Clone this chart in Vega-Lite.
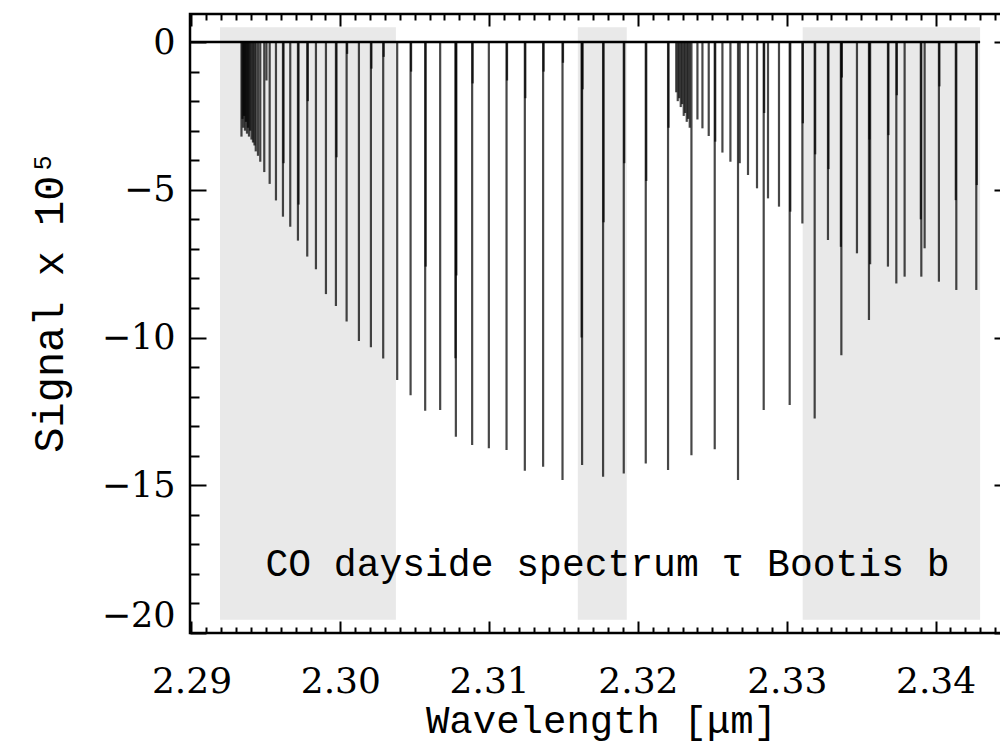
{
  "$schema": "https://vega.github.io/schema/vega-lite/v6.json",
  "width": 820,
  "height": 619,
  "autosize": {"type": "none"},
  "padding": {"left": 190, "top": 14, "right": 0, "bottom": 114},
  "background": "white",
  "config": {
    "view": {"stroke": "black", "strokeWidth": 2.5},
    "axis": {"grid": false, "domain": false, "tickColor": "black", "tickWidth": 2, "labelColor": "black", "titleColor": "black", "labelFont": "DejaVu Serif", "titleFont": "Liberation Mono", "titleFontWeight": "normal"}
  },
  "datasets": {
    "bands": [
      {"start": 2.291915, "end": 2.303735, "top": 0.5, "bottom": -19.55},
      {"start": 2.315958, "end": 2.319249, "top": 0.5, "bottom": -19.55},
      {"start": 2.331069, "end": 2.34299, "top": 0.5, "bottom": -19.55}
    ],
    "continuum": [
      {"start": 2.2899, "end": 2.34299, "signal": 0}
    ],
    "lines": [
      {"wl": 2.293359, "signal": -3.2}, {"wl": 2.293426, "signal": -2.6}, {"wl": 2.29348, "signal": -2.9},
      {"wl": 2.29354, "signal": -2.5}, {"wl": 2.293594, "signal": -3.0}, {"wl": 2.293661, "signal": -2.7},
      {"wl": 2.293728, "signal": -3.1}, {"wl": 2.293795, "signal": -2.9}, {"wl": 2.293862, "signal": -3.2},
      {"wl": 2.29395, "signal": -3.0}, {"wl": 2.29403, "signal": -3.3}, {"wl": 2.294131, "signal": -3.4},
      {"wl": 2.294232, "signal": -3.5}, {"wl": 2.294319, "signal": -3.7}, {"wl": 2.294467, "signal": -3.85},
      {"wl": 2.294621, "signal": -4.05}, {"wl": 2.29489, "signal": -4.4}, {"wl": 2.295253, "signal": -4.8},
      {"wl": 2.295676, "signal": -5.36}, {"wl": 2.296146, "signal": -5.91}, {"wl": 2.296636, "signal": -6.25},
      {"wl": 2.297153, "signal": -6.72}, {"wl": 2.297778, "signal": -7.26}, {"wl": 2.298362, "signal": -7.69},
      {"wl": 2.299034, "signal": -8.53}, {"wl": 2.299705, "signal": -8.93}, {"wl": 2.300424, "signal": -9.46},
      {"wl": 2.30125, "signal": -10.12}, {"wl": 2.302056, "signal": -10.33}, {"wl": 2.302882, "signal": -10.71},
      {"wl": 2.303822, "signal": -11.44}, {"wl": 2.304722, "signal": -11.95}, {"wl": 2.305703, "signal": -12.48},
      {"wl": 2.30671, "signal": -12.45}, {"wl": 2.307765, "signal": -13.36}, {"wl": 2.308859, "signal": -13.64},
      {"wl": 2.309981, "signal": -13.75}, {"wl": 2.31117, "signal": -13.81}, {"wl": 2.312399, "signal": -14.51},
      {"wl": 2.313628, "signal": -14.37}, {"wl": 2.314931, "signal": -14.82}, {"wl": 2.316247, "signal": -14.31},
      {"wl": 2.317657, "signal": -14.71}, {"wl": 2.319047, "signal": -14.6}, {"wl": 2.320525, "signal": -14.26},
      {"wl": 2.322023, "signal": -14.48}, {"wl": 2.323594, "signal": -13.98}, {"wl": 2.325159, "signal": -13.78},
      {"wl": 2.326724, "signal": -14.82}, {"wl": 2.32845, "signal": -12.45}, {"wl": 2.330196, "signal": -12.28},
      {"wl": 2.331875, "signal": -12.74}, {"wl": 2.333668, "signal": -10.6}, {"wl": 2.335522, "signal": -9.41},
      {"wl": 2.337362, "signal": -8.17}, {"wl": 2.339041, "signal": -7.94}, {"wl": 2.341392, "signal": -8.39},
      {"wl": 2.342735, "signal": -8.39},
      {"wl": 2.322573, "signal": -1.7}, {"wl": 2.322674, "signal": -2.0}, {"wl": 2.322775, "signal": -1.9},
      {"wl": 2.322876, "signal": -2.2}, {"wl": 2.322976, "signal": -2.1}, {"wl": 2.323077, "signal": -2.5},
      {"wl": 2.323178, "signal": -2.4}, {"wl": 2.323279, "signal": -2.7}, {"wl": 2.323379, "signal": -2.6},
      {"wl": 2.32348, "signal": -2.9},
      {"wl": 2.323997, "signal": -2.62}, {"wl": 2.324333, "signal": -2.92}, {"wl": 2.324756, "signal": -3.18},
      {"wl": 2.325193, "signal": -3.37}, {"wl": 2.325676, "signal": -3.74}, {"wl": 2.326213, "signal": -4.05},
      {"wl": 2.326838, "signal": -4.1}, {"wl": 2.327395, "signal": -4.5}, {"wl": 2.328, "signal": -4.95},
      {"wl": 2.328739, "signal": -5.29}, {"wl": 2.329477, "signal": -5.57}, {"wl": 2.330236, "signal": -5.74},
      {"wl": 2.331049, "signal": -6.14}, {"wl": 2.332768, "signal": -6.7}, {"wl": 2.333635, "signal": -6.93},
      {"wl": 2.334716, "signal": -7.15}, {"wl": 2.335602, "signal": -7.52}, {"wl": 2.336798, "signal": -7.6},
      {"wl": 2.337919, "signal": -7.94}, {"wl": 2.339263, "signal": -6.98}, {"wl": 2.340223, "signal": -8.11},
      {"wl": 2.295038, "signal": -1.3}, {"wl": 2.296186, "signal": -4.1}, {"wl": 2.297194, "signal": -5.5},
      {"wl": 2.297818, "signal": -2.0}, {"wl": 2.299746, "signal": -3.9}, {"wl": 2.300458, "signal": -0.4},
      {"wl": 2.30209, "signal": -0.9}, {"wl": 2.302916, "signal": -0.5}, {"wl": 2.304756, "signal": -1.0},
      {"wl": 2.305736, "signal": -7.6}, {"wl": 2.307738, "signal": -10.7}, {"wl": 2.307798, "signal": -7.9},
      {"wl": 2.308893, "signal": -1.4}, {"wl": 2.311203, "signal": -1.3}, {"wl": 2.312432, "signal": -1.9},
      {"wl": 2.313661, "signal": -1.0}, {"wl": 2.314964, "signal": -0.7}, {"wl": 2.31628, "signal": -1.6},
      {"wl": 2.316213, "signal": -10.0}, {"wl": 2.317691, "signal": -6.1}, {"wl": 2.319081, "signal": -4.1},
      {"wl": 2.320559, "signal": -4.7}, {"wl": 2.322056, "signal": -2.9}, {"wl": 2.328483, "signal": -2.4},
      {"wl": 2.331083, "signal": -2.75}, {"wl": 2.331909, "signal": -3.8}, {"wl": 2.332802, "signal": -4.3},
      {"wl": 2.333702, "signal": -1.2}, {"wl": 2.335555, "signal": -3.3}, {"wl": 2.336831, "signal": -3.15},
      {"wl": 2.337396, "signal": -1.8}, {"wl": 2.339007, "signal": -6.0}, {"wl": 2.340257, "signal": -1.5},
      {"wl": 2.341358, "signal": -5.35}, {"wl": 2.342768, "signal": -4.84}
    ],
    "note": [
      {"wl": 2.317954, "signal": -18.07, "text": "CO dayside spectrum τ Bootis b"}
    ]
  },
  "resolve": {"axis": {"x": "independent", "y": "independent"}},
  "layer": [
    {
      "data": {"name": "bands"},
      "mark": {"type": "rect", "fill": "#e9e9e9"},
      "encoding": {
        "x": {"field": "start", "type": "quantitative", "scale": {"domain": [2.2899, 2.345], "nice": false, "zero": false},
          "axis": {"orient": "bottom", "values": [2.29, 2.30, 2.31, 2.32, 2.33, 2.34], "format": ".2f", "tickSize": -12,
            "labelFontSize": 36, "labelBaseline": "alphabetic", "labelPadding": 71, "labelFlush": false, "labelOverlap": false,
            "title": "Wavelength [μm]", "titleFontSize": 39, "titleX": 411, "titleY": 99, "titleBaseline": "alphabetic", "titleAlign": "center"}},
        "x2": {"field": "end"},
        "y": {"field": "top", "type": "quantitative", "scale": {"domain": [-20, 0.95], "nice": false, "zero": false},
          "axis": {"orient": "left", "values": [0, -5, -10, -15, -20], "tickSize": -16,
            "labelFontSize": 35, "labelPadding": 31, "labelFlush": 1, "labelFlushOffset": 0, "labelOverlap": false,
            "title": "Signal x 10⁵", "titleFontSize": 42, "titleAngle": -90, "titleX": -128, "titleY": 287, "titleBaseline": "alphabetic", "titleAlign": "center"}},
        "y2": {"field": "bottom"}
      }
    },
    {
      "data": {"name": "continuum"},
      "mark": {"type": "rule", "color": "black", "strokeWidth": 2.5},
      "encoding": {
        "x": {"field": "start", "type": "quantitative", "scale": {"domain": [2.2899, 2.345], "nice": false, "zero": false},
          "axis": {"orient": "bottom", "values": [2.291, 2.292, 2.293, 2.294, 2.295, 2.296, 2.297, 2.298, 2.299, 2.301, 2.302, 2.303, 2.304, 2.305, 2.306, 2.307, 2.308, 2.309, 2.311, 2.312, 2.313, 2.314, 2.315, 2.316, 2.317, 2.318, 2.319, 2.321, 2.322, 2.323, 2.324, 2.325, 2.326, 2.327, 2.328, 2.329, 2.331, 2.332, 2.333, 2.334, 2.335, 2.336, 2.337, 2.338, 2.339, 2.341, 2.342, 2.343, 2.344],
            "tickSize": -6, "labels": false, "title": null}},
        "x2": {"field": "end"},
        "y": {"field": "signal", "type": "quantitative", "scale": {"domain": [-20, 0.95], "nice": false, "zero": false},
          "axis": {"orient": "left", "values": [-1, -2, -3, -4, -6, -7, -8, -9, -11, -12, -13, -14, -16, -17, -18, -19],
            "tickSize": -9, "labels": false, "title": null}}
      }
    },
    {
      "data": {"name": "lines"},
      "mark": {"type": "rule", "color": "black", "strokeWidth": 2.2, "opacity": 0.72},
      "encoding": {
        "x": {"field": "wl", "type": "quantitative", "scale": {"domain": [2.2899, 2.345], "nice": false, "zero": false},
          "axis": {"orient": "top", "values": [2.29, 2.30, 2.31, 2.32, 2.33, 2.34], "tickSize": -12, "labels": false, "title": null}},
        "y": {"field": "signal", "type": "quantitative", "scale": {"domain": [-20, 0.95], "nice": false, "zero": false},
          "axis": {"orient": "right", "values": [0, -5, -10, -15, -20], "tickSize": -16, "labels": false, "title": null}},
        "y2": {"datum": 0}
      }
    },
    {
      "data": {"name": "note"},
      "mark": {"type": "text", "font": "Liberation Mono", "fontSize": 38, "align": "center", "baseline": "alphabetic", "color": "black"},
      "encoding": {
        "x": {"field": "wl", "type": "quantitative", "scale": {"domain": [2.2899, 2.345], "nice": false, "zero": false},
          "axis": {"orient": "top", "values": [2.291, 2.292, 2.293, 2.294, 2.295, 2.296, 2.297, 2.298, 2.299, 2.301, 2.302, 2.303, 2.304, 2.305, 2.306, 2.307, 2.308, 2.309, 2.311, 2.312, 2.313, 2.314, 2.315, 2.316, 2.317, 2.318, 2.319, 2.321, 2.322, 2.323, 2.324, 2.325, 2.326, 2.327, 2.328, 2.329, 2.331, 2.332, 2.333, 2.334, 2.335, 2.336, 2.337, 2.338, 2.339, 2.341, 2.342, 2.343, 2.344],
            "tickSize": -6, "labels": false, "title": null}},
        "y": {"field": "signal", "type": "quantitative", "scale": {"domain": [-20, 0.95], "nice": false, "zero": false},
          "axis": {"orient": "right", "values": [-1, -2, -3, -4, -6, -7, -8, -9, -11, -12, -13, -14, -16, -17, -18, -19],
            "tickSize": -9, "labels": false, "title": null}},
        "text": {"field": "text"}
      }
    }
  ]
}
